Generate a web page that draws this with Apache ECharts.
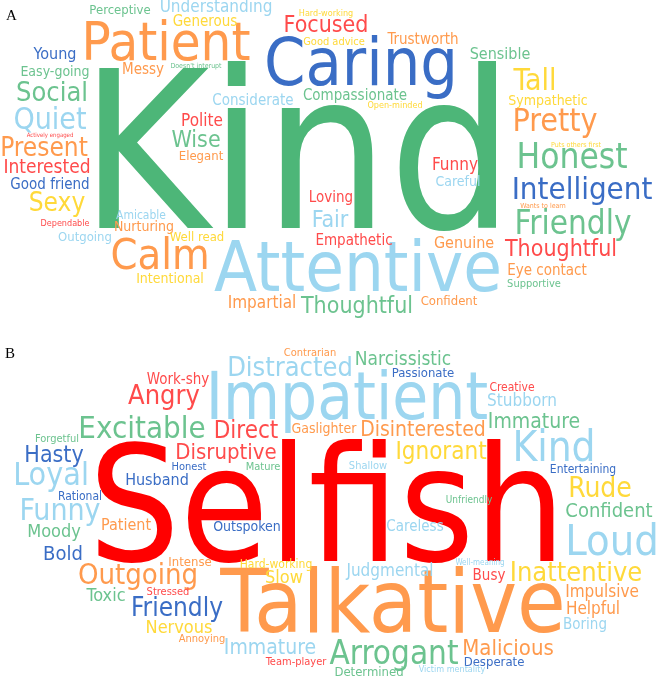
<!DOCTYPE html>
<html>
<head>
<meta charset="utf-8">
<script src="https://cdn.jsdelivr.net/npm/echarts@6/dist/echarts.min.js"></script>
<style>
  html, body { margin: 0; padding: 0; background: #fff; }
  #chart { width: 661px; height: 678px; }
</style>
</head>
<body>
<div id="chart"></div>
<script>
// palette keys used by the word lists
const palette = {
  g: '#4db678', lg: '#6cc38f', db: '#3a6dc5', lb: '#9cd6f0',
  o: '#ff9a4d', r: '#ff4b4b', y: '#ffd93a', R: '#ff0000'
}

// A: good qualities  [word, weight]
const wordsA = [
  ['Kind', 219], ['Caring', 66], ['Attentive', 70], ['Patient', 54], ['Calm', 43],
  ['Honest', 35], ['Tall', 30], ['Pretty', 32], ['Intelligent', 31], ['Friendly', 33],
  ['Quiet', 30], ['Social', 27], ['Sexy', 26], ['Present', 26], ['Focused', 23],
  ['Wise', 23], ['Fair', 23], ['Thoughtful', 23], ['Thoughtful', 23], ['Interested', 19],
  ['Polite', 17], ['Funny', 17], ['Impartial', 17], ['Understanding', 17], ['Young', 16],
  ['Sensible', 16], ['Good friend', 15], ['Genuine', 16], ['Generous', 15], ['Trustworth', 15],
  ['Messy', 15], ['Considerate', 15], ['Compassionate', 15], ['Loving', 15], ['Empathetic', 15],
  ['Eye contact', 15], ['Easy-going', 14], ['Sympathetic', 14], ['Nurturing', 14], ['Intentional', 14],
  ['Careful', 14], ['Perceptive', 13], ['Elegant', 13], ['Outgoing', 13], ['Well read', 13],
  ['Confident', 13], ['Amicable', 12], ['Good advice', 11], ['Supportive', 11], ['Hard-working', 9],
  ['Open-minded', 9], ['Dependable', 9], ["Doesn't interupt", 7], ['Puts others first', 7], ['Wants to learn', 7],
  ['Actively engaged', 6]
]
// where each A word sits  [x, y, colour]
const layoutA = [
  [297, 151, 'g'], [361, 63, 'db'], [358, 267, 'lb'], [166, 42, 'o'], [160, 255, 'o'],
  [572, 157, 'lg'], [535, 80, 'y'], [555, 121, 'o'], [582, 189, 'db'], [573, 223, 'lg'],
  [50, 119, 'lb'], [52, 93, 'lg'], [57, 203, 'y'], [44, 148, 'o'], [326, 25, 'r'],
  [196, 140, 'lg'], [330, 220, 'lb'], [357, 306, 'lg'], [561, 249, 'r'], [47, 168, 'r'],
  [202, 122, 'r'], [455, 166, 'r'], [262, 304, 'o'], [216, 8, 'lb'], [55, 55, 'db'],
  [500, 55, 'lg'], [50, 185, 'db'], [464, 244, 'o'], [205, 22, 'y'], [423, 40, 'o'],
  [143, 70, 'o'], [253, 101, 'lb'], [355, 96, 'lg'], [331, 198, 'r'], [354, 241, 'r'],
  [547, 271, 'o'], [55, 72, 'lg'], [548, 101, 'y'], [144, 227, 'o'], [170, 279, 'y'],
  [458, 182, 'lb'], [120, 11, 'lg'], [201, 157, 'o'], [85, 238, 'lb'], [197, 238, 'y'],
  [449, 302, 'o'], [141, 216, 'lb'], [334, 42, 'y'], [534, 284, 'lg'], [326, 15, 'y'],
  [395, 107, 'y'], [65, 225, 'r'], [196, 67, 'lg'], [576, 146, 'y'], [543, 207, 'o'],
  [50, 136, 'r']
]

// B: bad qualities  [word, weight]
const wordsB = [
  ['Selfish', 160], ['Talkative', 88], ['Impatient', 65], ['Kind', 42], ['Loud', 43],
  ['Funny', 30], ['Loyal', 32], ['Outgoing', 29], ['Arrogant', 33], ['Excitable', 31],
  ['Distracted', 27], ['Angry', 27], ['Inattentive', 27], ['Friendly', 26], ['Rude', 28],
  ['Direct', 24], ['Hasty', 23], ['Disruptive', 22], ['Ignorant', 24], ['Malicious', 22],
  ['Immature', 21], ['Disinterested', 21], ['Immature', 21], ['Confident', 20], ['Bold', 20],
  ['Narcissistic', 19], ['Moody', 18], ['Slow', 18], ['Toxic', 18], ['Nervous', 18],
  ['Stubborn', 17], ['Judgmental', 17], ['Impulsive', 17], ['Helpful', 17], ['Husband', 16],
  ['Patient', 16], ['Work-shy', 15], ['Careless', 15], ['Busy', 15], ['Boring', 15],
  ['Gaslighter', 14], ['Outspoken', 14], ['Passionate', 13], ['Intense', 13], ['Desperate', 13],
  ['Determined', 13], ['Creative', 12], ['Entertaining', 12], ['Rational', 12], ['Hard-working', 12],
  ['Contrarian', 11], ['Forgetful', 11], ['Honest', 11], ['Mature', 11], ['Shallow', 11],
  ['Stressed', 11], ['Annoying', 11], ['Team-player', 11], ['Unfriendly', 10], ['Victim mentality', 9],
  ['Well-meaning', 8]
]
// where each B word sits  [x, y, colour]
const layoutB = [
  [327, 504, 'R'], [393, 602, 'o'], [347, 397, 'lb'], [554, 447, 'lb'], [612, 541, 'lb'],
  [60, 510, 'lb'], [51, 475, 'lb'], [138, 575, 'o'], [394, 653, 'lg'], [142, 428, 'lg'],
  [290, 368, 'lb'], [164, 396, 'r'], [576, 573, 'y'], [177, 608, 'db'], [600, 489, 'y'],
  [246, 431, 'r'], [54, 455, 'db'], [226, 452, 'r'], [441, 452, 'y'], [508, 648, 'o'],
  [534, 422, 'lg'], [423, 430, 'o'], [270, 648, 'lb'], [609, 511, 'lg'], [63, 554, 'db'],
  [403, 360, 'lg'], [54, 532, 'lg'], [284, 578, 'y'], [106, 596, 'lg'], [179, 628, 'y'],
  [522, 402, 'lb'], [390, 572, 'lb'], [602, 593, 'o'], [593, 610, 'o'], [157, 481, 'db'],
  [126, 526, 'o'], [178, 380, 'r'], [415, 527, 'lb'], [489, 576, 'r'], [585, 625, 'lb'],
  [324, 429, 'o'], [247, 527, 'db'], [423, 374, 'db'], [190, 563, 'o'], [494, 663, 'db'],
  [369, 673, 'lg'], [512, 388, 'r'], [583, 470, 'db'], [80, 497, 'db'], [276, 565, 'y'],
  [310, 353, 'o'], [57, 439, 'lg'], [189, 467, 'db'], [263, 467, 'lg'], [368, 466, 'lb'],
  [168, 592, 'r'], [202, 639, 'o'], [296, 662, 'r'], [469, 500, 'lg'], [452, 671, 'lb'],
  [480, 564, 'lb']
]

const FONT = 'DejaVu Sans Condensed'

function buildData(words, layout) {
  return words.map((w, i) => {
    const p = layout[i]
    return {
      name: w[0],
      value: [p[0], p[1]],
      // y is the middle of the capitals, canvas 'middle' sits a bit higher
      label: { fontSize: w[1], color: palette[p[2]], offset: [0, Math.round(0.1 * w[1] - 1.5)] }
    }
  })
}

const myChart = echarts.init(document.getElementById('chart'))
const panelTitle = { fontFamily: 'Liberation Serif', fontWeight: 'normal', fontSize: 15, color: '#000' }
const option = {
  animation: false,
  backgroundColor: '#fff',
  title: [
    { text: 'A', left: 1, top: 4, textStyle: panelTitle },
    { text: 'B', left: 0, top: 342, textStyle: panelTitle }
  ],
  grid: { left: 0, right: 0, top: 0, bottom: 0 },
  xAxis: { type: 'value', min: 0, max: 661, show: false },
  yAxis: { type: 'value', min: 0, max: 678, inverse: true, show: false },
  series: [wordsA, wordsB].map((words, k) => ({
    type: 'scatter',
    silent: true,
    symbolSize: 1,
    itemStyle: { color: 'transparent', opacity: 1 },
    label: {
      show: true,
      position: 'inside',
      align: 'center',
      verticalAlign: 'middle',
      opacity: 1,
      fontFamily: FONT,
      formatter: '{b}'
    },
    data: buildData(words, k === 0 ? layoutA : layoutB)
  }))
}
myChart.setOption(option)
</script>
</body>
</html>
